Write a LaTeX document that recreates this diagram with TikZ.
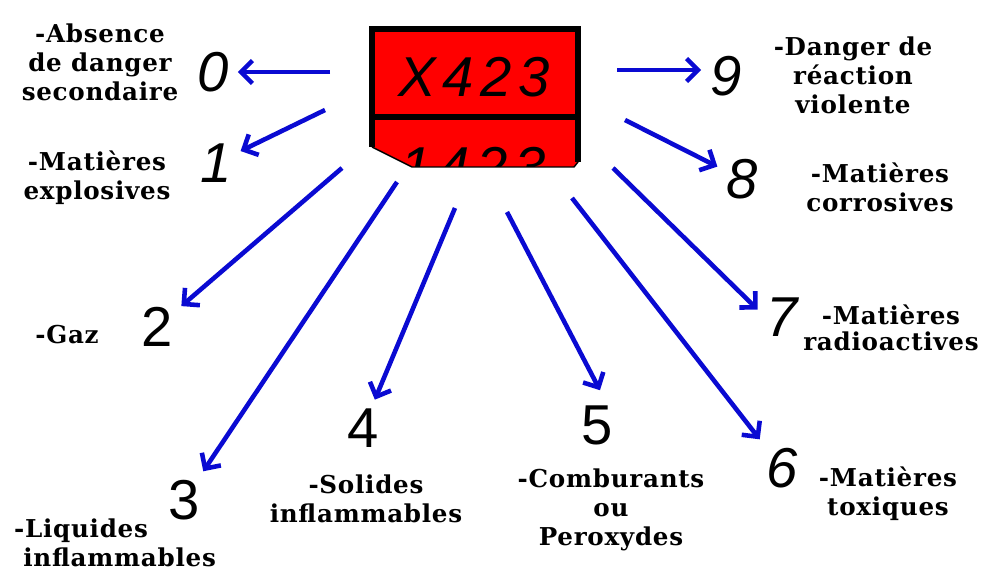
\documentclass[tikz,border=0pt]{standalone}
\usepackage{fontspec}
\setmainfont{DejaVu Serif}[LetterSpace=3]
\newfontfamily\hand{Liberation Sans}[LetterSpace=12]
\usetikzlibrary{arrows.meta}
\definecolor{plaque}{RGB}{255,0,0}
\definecolor{fleche}{RGB}{10,10,210}
\tikzset{
  num/.style={font=\hand\fontsize{32}{32}\selectfont,inner sep=4pt},
  numi/.style={num,font=\hand\itshape\fontsize{32}{32}\selectfont},
  lbl/.style={align=center,font=\bfseries\fontsize{14}{16.5}\selectfont,inner sep=1pt},
  arr/.style={fleche,line width=2.6pt,-{Straight Barb[length=6.5pt,width=13pt]},shorten >=1pt}
}
\begin{document}
\begin{tikzpicture}[x=0.02cm,y=-0.02cm]
\useasboundingbox (0,0) rectangle (985,571);
\fill[plaque] (372,29)--(578,29)--(578,162)--(574,167)--(412,167)--(372,147)--cycle;
\begin{scope}
\clip (372,29)--(578,29)--(578,162)--(574,167)--(412,167)--(372,147)--cycle;
\node[numi] (code2) at (473,167) {1423};
\end{scope}
\draw[line width=.8pt] (372,147)--(412,167)--(574,167)--(578,162);
\draw[line width=3pt] (372,147)--(372,29)--(578,29)--(578,162);
\draw[line width=3.2pt] (372,117)--(578,117);
\node[numi] (code1) at (474,77) {X423};

\node[numi] (d0) at (213,72) {0};
\node[numi] (d1) at (216,163) {1};
\node[num] (d2) at (157,327) {2};
\node[num] (d3) at (184,500) {3};
\node[num] (d4) at (363,428) {4};
\node[num] (d5) at (597,425) {5};
\node[numi] (d6) at (782,468) {6};
\node[numi] (d7) at (782,317) {7};
\node[numi] (d8) at (742,179) {8};
\node[numi] (d9) at (726,76) {9};

\node[lbl] (l0) at (100,62) {-Absence\\de danger\\secondaire};
\node[lbl] (l1) at (97,178) {-Matières\\explosives};
\node[lbl] (l2) at (67,335) {-Gaz};
\node[lbl,align=left,anchor=west] (l3) at (12,543) {-Liquides\\\ inflammables};
\node[lbl] (l4) at (366,499) {-Solides\\inflammables};
\node[lbl] (l5) at (611,510) {-Comburants\\ou\\Peroxydes};
\node[lbl] (l6) at (888,494) {-Matières\\toxiques};
\node[lbl,font=\bfseries\fontsize{14}{14.5}\selectfont] (l7) at (891,328) {-Matières\\radioactives};
\node[lbl] (l8) at (880,187) {-Matières\\corrosives};
\node[lbl] (l9) at (853,75) {-Danger de\\réaction\\violente};

\coordinate (s0) at (330,72);
\coordinate (s1) at (325,110);
\coordinate (s2) at (342,168);
\coordinate (s3) at (397,182);
\coordinate (s4) at (455,208);
\coordinate (s5) at (507,212);
\coordinate (s6) at (572,198);
\coordinate (s7) at (613,168);
\coordinate (s8) at (625,120);
\coordinate (s9) at (617,70);
\draw[arr] (s0)--(s0 -| d0.east);
\draw[arr] (s1)--(d1);
\draw[arr] (s2)--(d2);
\draw[arr] (s3)--(d3);
\draw[arr] (s4)--(d4);
\draw[arr,shorten >=5pt] (s5)--([xshift=4pt]d5.north);
\draw[arr] (s6)--(d6);
\draw[arr] (s7)--(d7.165);
\draw[arr] (s8)--(d8);
\draw[arr] (s9)--(s9 -| d9.west);
\end{tikzpicture}
\end{document}
